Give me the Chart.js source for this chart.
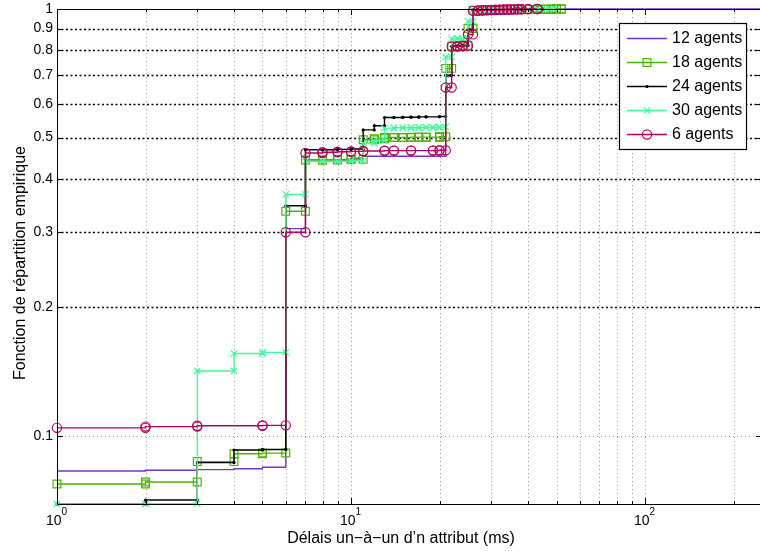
<!DOCTYPE html>
<html>
<head>
<meta charset="utf-8">
<script src="https://cdn.jsdelivr.net/npm/chart.js@4.4.1/dist/chart.umd.min.js"></script>
<style>
    html, body { margin: 0; padding: 0; background: #fff; overflow: hidden; width: 760px; height: 551px; }
    canvas { display: block; }
</style>
</head>
<body>
<canvas id="cdfChart" width="770" height="551"></canvas>
<script>
// series names, in legend order
const seriesNames = ['12 agents', '18 agents', '24 agents', '30 agents', '6 agents'];

// delay (ms) where each step happens, and the empirical CDF after the step
const delays12 = [1, 2, 3, 4, 5, 6, 7, 10, 11, 21, 22, 25, 26, 250];
const cdf12 = [0.0828, 0.0831, 0.0834, 0.0838, 0.0845, 0.306, 0.443, 0.447, 0.452, 0.695, 0.82, 0.89, 1.0, 1.0];

const delays18 = [1, 2, 3, 4, 5, 6, 7, 8, 9, 10, 11, 12, 13, 14, 15, 16, 17, 18, 20, 21, 22, 23, 24, 25, 26, 28, 30, 32, 34, 36, 38, 40, 42, 44, 46, 48, 50, 52];
const cdf18 = [0.0772, 0.0780, 0.0871, 0.0909, 0.0912, 0.336, 0.443, 0.443, 0.444, 0.445, 0.494, 0.497, 0.500, 0.500, 0.500, 0.501, 0.501, 0.501, 0.502, 0.726, 0.818, 0.82, 0.822, 0.90, 0.994, 0.995, 0.996, 0.996, 0.997, 0.997, 0.998, 0.998, 0.999, 0.999, 0.999, 1.0, 1.0, 1.0];

const delays24 = [1, 2, 3, 4, 5, 6, 7, 8, 9, 10, 11, 12, 13, 14, 15, 16, 17, 18, 20, 21, 22, 23, 24, 25, 26, 27, 28, 30, 32, 35, 38, 41, 45];
const cdf24 = [0.0693, 0.0708, 0.0866, 0.0927, 0.0930, 0.346, 0.468, 0.468, 0.469, 0.470, 0.521, 0.533, 0.557, 0.557, 0.558, 0.558, 0.559, 0.559, 0.560, 0.70, 0.818, 0.82, 0.822, 0.895, 0.993, 0.995, 0.996, 0.997, 0.998, 0.999, 0.999, 1.0, 1.0];

const delays30 = [1, 2, 3, 4, 5, 6, 7, 8, 9, 10, 11, 12, 13, 14, 15, 16, 17, 18, 19, 20, 21, 22, 23, 24, 25, 26, 28, 30, 32, 34, 37, 40, 43, 46, 49];
const cdf30 = [0.0693, 0.0694, 0.142, 0.156, 0.157, 0.368, 0.440, 0.440, 0.440, 0.441, 0.485, 0.492, 0.526, 0.527, 0.527, 0.527, 0.528, 0.528, 0.528, 0.529, 0.772, 0.853, 0.853, 0.854, 0.936, 0.994, 0.995, 0.996, 0.997, 0.998, 0.998, 0.999, 0.999, 1.0, 1.0];

const delays6 = [1, 2, 3, 5, 6, 7, 8, 9, 10, 11, 13, 14, 16, 19, 20, 21, 22, 23, 24, 25, 26, 27, 28, 29, 30, 31, 32, 33, 34, 35, 36, 37, 38, 40, 43];
const cdf6 = [0.1045, 0.1052, 0.1057, 0.1059, 0.300, 0.460, 0.462, 0.463, 0.464, 0.465, 0.466, 0.466, 0.466, 0.466, 0.467, 0.655, 0.817, 0.818, 0.82, 0.872, 0.990, 0.992, 0.993, 0.994, 0.995, 0.996, 0.996, 0.997, 0.997, 0.998, 0.998, 0.999, 0.999, 1.0, 1.0];

// axes
const yTicks = [0.1, 0.2, 0.3, 0.4, 0.5, 0.6, 0.7, 0.8, 0.9, 1];
const yTickLabels = ['0.1', '0.2', '0.3', '0.4', '0.5', '0.6', '0.7', '0.8', '0.9', '1'];
const xTicks = [1, 10, 100];
const xTickBase = ['10', '10', '10'];
const xTickExps = ['0', '1', '2'];
const xMinorTicks = [2, 3, 4, 5, 6, 7, 8, 9, 20, 30, 40, 50, 60, 70, 80, 90, 200];

const FONT = "'Liberation Sans', Arial, Helvetica, sans-serif";

// turn step positions into a stairs polyline (a vertex at both corners of every step)
function stairs(xs, fs){
    const pts = [];
    xs.forEach((x, i) => {
        if (i > 0) pts.push({x: x, y: fs[i - 1]});
        pts.push({x: x, y: fs[i]});
    });
    return pts;
}

const styles = [
    {color: '#7436c4', marker: false,      radius: 0},
    {color: '#4db300', marker: 'rect',     radius: 5.5},
    {color: '#000000', marker: 'dot',      radius: 1.6},
    {color: '#3dfc9c', marker: 'crossRot', radius: 4.5},
    {color: '#b8005c', marker: 'circle',   radius: 4.6}
];
const allDelays = [delays12, delays18, delays24, delays30, delays6];
const allCdf = [cdf12, cdf18, cdf24, cdf30, cdf6];

function drawMarker(ctx, st, px, py){
    ctx.save();
    ctx.strokeStyle = st.color;
    ctx.fillStyle = st.color;
    ctx.lineWidth = 1.2;
    ctx.beginPath();
    if (st.marker === 'rect') {
        const s = Math.SQRT1_2 * st.radius;
        ctx.rect(px - s, py - s, 2 * s, 2 * s);
        ctx.stroke();
    } else if (st.marker === 'dot') {
        ctx.arc(px, py, st.radius, 0, Math.PI * 2);
        ctx.fill();
    } else if (st.marker === 'crossRot') {
        const s = Math.SQRT1_2 * st.radius;
        ctx.moveTo(px - s, py - s); ctx.lineTo(px + s, py + s);
        ctx.moveTo(px - s, py + s); ctx.lineTo(px + s, py - s);
        ctx.stroke();
    } else if (st.marker === 'circle') {
        ctx.arc(px, py, st.radius, 0, Math.PI * 2);
        ctx.stroke();
    }
    ctx.restore();
}

const matlabAxes = {
    id: 'matlabAxes',
    beforeDatasetsDraw(chart){
        const {ctx, chartArea: a, scales: {x, y}} = chart;
        ctx.save();
        ctx.lineWidth = 1;
        // grey dotted grid on x minor/major positions and y = 0.1
        ctx.strokeStyle = '#a0a0a0';
        ctx.setLineDash([1, 3]);
        ctx.beginPath();
        xMinorTicks.concat([10, 100]).forEach(v => {
            const px = Math.round(x.getPixelForValue(v)) + 0.5;
            ctx.moveTo(px, a.top);
            ctx.lineTo(px, a.bottom);
        });
        const p01 = Math.round(y.getPixelForValue(0.1)) + 0.5;
        ctx.moveTo(a.left, p01);
        ctx.lineTo(a.right, p01);
        ctx.stroke();
        // black dotted grid for 0.2 .. 0.9
        ctx.strokeStyle = '#000';
        ctx.lineWidth = 1.3;
        ctx.setLineDash([2, 2.5]);
        ctx.beginPath();
        yTicks.forEach(v => {
            if (v === 0.1 || v === 1) return;
            const py = Math.round(y.getPixelForValue(v)) + 0.5;
            ctx.moveTo(a.left, py);
            ctx.lineTo(a.right, py);
        });
        ctx.stroke();
        ctx.restore();
    },
    afterDatasetsDraw(chart){
        const {ctx, chartArea: a, scales: {x, y}} = chart;
        ctx.save();
        ctx.setLineDash([]);
        ctx.strokeStyle = '#000';
        ctx.lineWidth = 1;

        // axes box
        ctx.beginPath();
        ctx.moveTo(a.left + 0.5, a.top + 0.5);
        ctx.lineTo(a.left + 0.5, a.bottom + 0.5);
        ctx.lineTo(a.right + 0.5, a.bottom + 0.5);
        ctx.lineTo(a.right + 0.5, a.top + 0.5);
        ctx.closePath();
        ctx.stroke();

        // ticks, pointing inward
        ctx.beginPath();
        xTicks.concat(xMinorTicks).forEach(v => {
            const px = Math.round(x.getPixelForValue(v)) + 0.5;
            const len = xTicks.includes(v) ? 6 : 3;
            ctx.moveTo(px, a.bottom); ctx.lineTo(px, a.bottom - len);
            ctx.moveTo(px, a.top); ctx.lineTo(px, a.top + len);
        });
        yTicks.forEach(v => {
            const py = Math.round(y.getPixelForValue(v)) + 0.5;
            ctx.moveTo(a.left, py); ctx.lineTo(a.left + 6, py);
            ctx.moveTo(a.right, py); ctx.lineTo(a.right - 6, py);
        });
        ctx.stroke();

        // y tick labels
        ctx.fillStyle = '#000';
        ctx.font = '14px ' + FONT;
        ctx.textAlign = 'right';
        ctx.textBaseline = 'middle';
        yTicks.forEach((v, i) => {
            ctx.fillText(yTickLabels[i], a.left - 4, y.getPixelForValue(v));
        });

        // x tick labels 10^n
        ctx.textBaseline = 'alphabetic';
        ctx.textAlign = 'left';
        xTicks.forEach((v, i) => {
            const px = x.getPixelForValue(v);
            ctx.font = '14px ' + FONT;
            const wb = ctx.measureText(xTickBase[i]).width;
            ctx.font = '10px ' + FONT;
            const we = ctx.measureText(xTickExps[i]).width;
            const left = px - (wb + we) / 2 - 0.5;
            ctx.font = '14px ' + FONT;
            ctx.fillText(xTickBase[i], left, a.bottom + 21);
            ctx.font = '10px ' + FONT;
            ctx.fillText(xTickExps[i], left + wb, a.bottom + 11);
        });

        // axis titles
        ctx.font = '16px ' + FONT;
        ctx.textAlign = 'center';
        ctx.fillText('Délais un−à−un d’n attribut (ms)', 401, 543);
        ctx.save();
        ctx.translate(24.5, 263);
        ctx.rotate(-Math.PI / 2);
        ctx.fillText('Fonction de répartition empirique', 0, 0);
        ctx.restore();

        // legend box
        ctx.fillStyle = '#fff';
        ctx.fillRect(619.5, 23.5, 127, 126);
        ctx.strokeStyle = '#000';
        ctx.lineWidth = 1.2;
        ctx.strokeRect(619.5, 23.5, 127, 126);
        seriesNames.forEach((name, i) => {
            const st = styles[i];
            const py = 38.5 + i * 24;
            ctx.strokeStyle = st.color;
            ctx.lineWidth = 1.4;
            ctx.beginPath();
            ctx.moveTo(627, py);
            ctx.lineTo(667, py);
            ctx.stroke();
            if (st.marker) drawMarker(ctx, st, 647, py);
            ctx.fillStyle = '#000';
            ctx.font = '16px ' + FONT;
            ctx.textAlign = 'left';
            ctx.textBaseline = 'middle';
            ctx.fillText(name, 672, py + 0.5);
        });
        ctx.restore();
    }
};

const datasets = seriesNames.map((name, i) => {
    const st = styles[i];
    return {
        label: name,
        data: stairs(allDelays[i], allCdf[i]),
        borderColor: st.color,
        borderWidth: 1.4,
        pointStyle: st.marker === 'dot' ? 'circle' : (st.marker || 'circle'),
        pointRadius: st.radius,
        pointBorderColor: st.color,
        pointBackgroundColor: st.marker === 'dot' ? st.color : 'rgba(0,0,0,0)',
        pointBorderWidth: st.marker === 'dot' ? 0 : 1.2,
        tension: 0,
        fill: false,
        clip: false,
        order: seriesNames.length - i
    };
});

const ctx = document.getElementById('cdfChart').getContext('2d');
const cdfChart = new Chart(ctx, {
    type: 'line',
    data: {datasets: datasets},
    options: {
        responsive: false,
        animation: false,
        devicePixelRatio: 1,
        layout: {
            padding: {left: 57, right: 8, top: 9, bottom: 47}
        },
        scales: {
            x: {type: 'logarithmic', min: 1, max: 250, display: false},
            y: {type: 'logarithmic', min: 0.0693, max: 1, display: false}
        },
        plugins: {
            legend: {display: false},
            tooltip: {enabled: false}
        }
    },
    plugins: [matlabAxes]
});
</script>
</body>
</html>
